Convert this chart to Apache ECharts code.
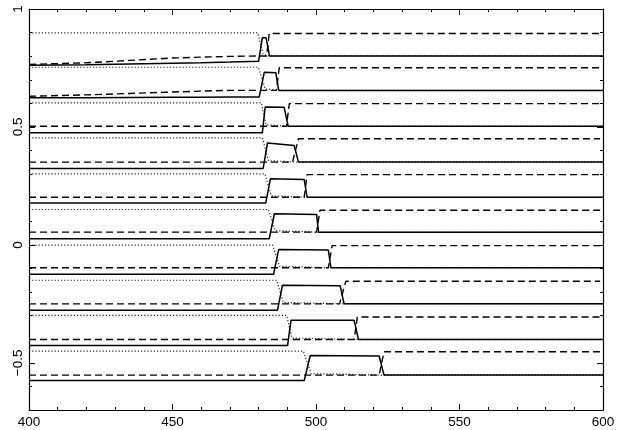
<!DOCTYPE html>
<html>
<head>
<meta charset="utf-8">
<script src="https://cdn.jsdelivr.net/npm/echarts@6/dist/echarts.min.js"></script>
<style>
  html, body { margin: 0; padding: 0; background: #fff; }
  #main { width: 622px; height: 430px; }
</style>
</head>
<body>
<div id="main"></div>
<script>
// 10 stacked traces, top to bottom. levels
const topLevel   = [0.899, 0.753, 0.602, 0.454, 0.301, 0.150, -0.001, -0.150, -0.299, -0.450]; // dotted, before the pulse
const topAfter   = [0.896, 0.751, 0.599, 0.450, 0.298, 0.147, -0.003, -0.154, -0.306, -0.453]; // dashed, after the pulse
const midLevel   = [0.801, 0.655, 0.503, 0.351, 0.202, 0.054, -0.097, -0.250, -0.401, -0.552]; // dashed before / solid after
const baseLevel  = [0.779, 0.627, 0.475, 0.324, 0.178, 0.026, -0.125, -0.277, -0.427, -0.575]; // solid before the pulse
const plateauIn  = [0.878, 0.732, 0.585, 0.432, 0.280, 0.132, -0.020, -0.171, -0.319, -0.469];
const plateauOut = [0.878, 0.730, 0.583, 0.421, 0.277, 0.129, -0.022, -0.173, -0.320, -0.471];

// pulse edges (x)
const riseStart = [480.0, 480.2, 481.3, 481.6, 482.5, 483.7, 485.2, 486.6, 490.1, 495.9];
const riseEnd   = [481.3, 482.0, 482.3, 483.1, 484.1, 485.5, 487.0, 488.3, 491.3, 498.0];
const fallStart = [482.6, 486.0, 488.9, 492.4, 495.9, 500.2, 504.3, 508.4, 513.3, 522.0];
const fallEnd   = [483.8, 487.0, 490.3, 493.9, 496.9, 500.9, 505.2, 509.8, 514.8, 523.7];
const dashRise  = [482.8, 486.2, 489.7, 491.8, 495.9, 500.2, 504.3, 508.2, 513.3, 522.0];
const dashJump  = [483.7, 487.2, 490.7, 493.9, 496.9, 501.4, 505.6, 510.4, 514.4, 523.7];

// the two top traces drift upwards on the left
const leftX = [400, 420, 435, 450, 460, 470];
const solidRamp = {
  0: [0.762, 0.764, 0.767, 0.770, 0.772, 0.775],
  1: [0.624, 0.624, 0.625, 0.626, 0.626, 0.627]
};
const dashRamp = {
  0: [0.765, 0.772, 0.782, 0.792, 0.796, 0.799],
  1: [0.630, 0.636, 0.642, 0.648, 0.652, 0.655]
};

const yTicks = [-0.5, 0, 0.5, 1];
const FONT = 'Liberation Sans';

function leftPart(ramp, i, flat) {
  if (ramp[i]) return leftX.map((x, k) => [x, ramp[i][k]]);
  return [[400, flat]];
}

const series = [];
for (let i = 0; i < topLevel.length; i++) {
  const T = topLevel[i], M = midLevel[i], B = baseLevel[i];

  const solid = leftPart(solidRamp, i, B).concat([
    [riseStart[i], B],
    [riseEnd[i], plateauIn[i]],
    [fallStart[i], plateauOut[i]],
    [fallEnd[i], M],
    [600, M]
  ]);

  const dashed = leftPart(dashRamp, i, M).concat([
    [riseStart[i] - 0.4, M],
    [dashRise[i], M],
    [dashJump[i], topAfter[i]],
    [599, topAfter[i]]
  ]);

  const dotted = [
    [400, T],
    [riseStart[i] - 0.3, T],
    [riseEnd[i] + 0.3, M + 0.006],
    [fallEnd[i], M],
    [600, M]
  ];

  const base = { type: 'line', symbol: 'none', animation: false, silent: true, xAxisIndex: 0, yAxisIndex: 0 };
  series.push(Object.assign({}, base, { data: dotted, lineStyle: { color: '#222', width: 1.2, type: [1.2, 2] } }));
  series.push(Object.assign({}, base, { data: dashed, lineStyle: { color: '#000', width: 1.4, type: [7, 4] } }));
  series.push(Object.assign({}, base, { data: solid, lineStyle: { color: '#000', width: 1.5 } }));
}

const line = { show: true, onZero: false, lineStyle: { color: '#000', width: 1.2 } };

function xAx(pos, labels) {
  return {
    type: 'value', position: pos, min: 400, max: 600, interval: 50,
    axisLine: line,
    axisTick: { show: true, inside: true, length: 6, lineStyle: { color: '#000' } },
    minorTick: { show: true, splitNumber: 5, length: 3, lineStyle: { color: '#000' } },
    axisLabel: { show: labels, color: '#000', fontFamily: FONT, fontSize: 13.5, margin: 5 },
    splitLine: { show: false }, minorSplitLine: { show: false }
  };
}

function yMajor(pos, labels) {
  return {
    type: 'value', position: pos, min: -0.7, max: 1,
    axisLine: line,
    axisTick: { show: true, inside: true, length: 6, customValues: yTicks, lineStyle: { color: '#000' } },
    axisLabel: {
      show: labels, customValues: yTicks, rotate: 90, margin: 4,
      color: '#000', fontFamily: FONT, fontSize: 13.5,
      formatter: v => String(v).replace('-', '\u2212')
    },
    splitLine: { show: false }
  };
}

function yMinor(pos) {
  return {
    type: 'value', position: pos, min: -0.7, max: 1, interval: 0.1,
    axisLine: { show: false },
    axisTick: { show: true, inside: true, length: 3, lineStyle: { color: '#000' } },
    axisLabel: { show: false },
    splitLine: { show: false }
  };
}

const chart = echarts.init(document.getElementById('main'));
chart.setOption({
  backgroundColor: '#fff',
  animation: false,
  grid: { left: 29, top: 9, width: 574, height: 401 },
  xAxis: [xAx('bottom', true), xAx('top', false)],
  yAxis: [yMajor('left', true), yMinor('left'), yMajor('right', false), yMinor('right')],
  series: series
});
</script>
</body>
</html>
